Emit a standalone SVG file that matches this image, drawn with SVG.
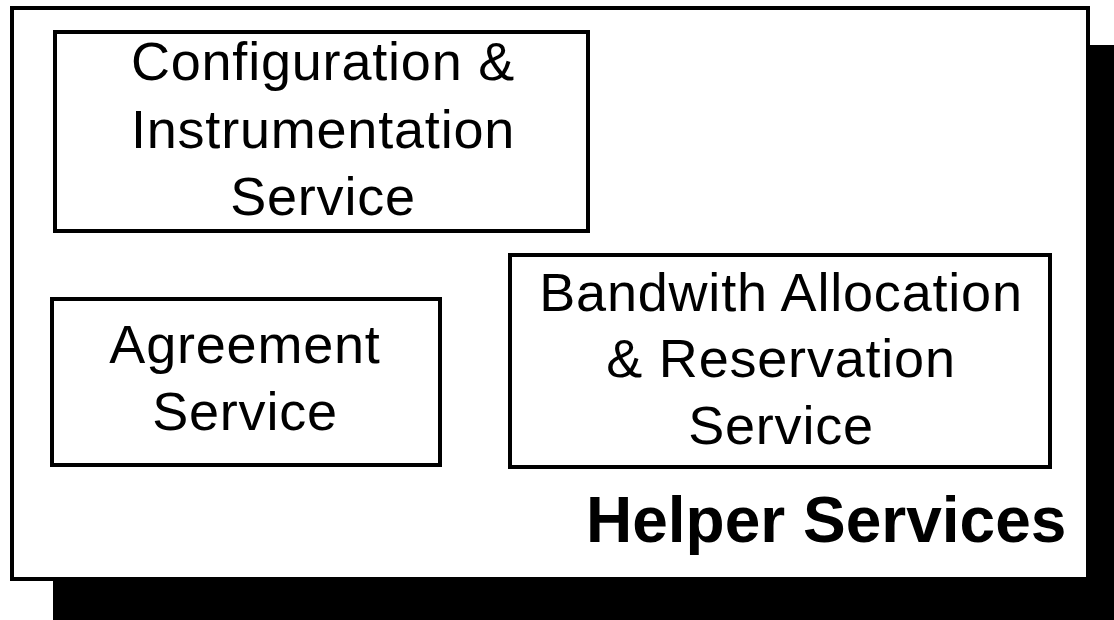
<svg xmlns="http://www.w3.org/2000/svg" width="1114" height="620" viewBox="0 0 1114 620">
  <style>
    .box { fill: #ffffff; stroke: #000000; stroke-width: 4; }
    .label { font-family: "Liberation Sans", Arial, sans-serif; font-size: 54px; letter-spacing: 0.8px; fill: #000000; text-anchor: middle; }
    .title { font-family: "Liberation Sans", Arial, sans-serif; font-size: 64px; font-weight: bold; fill: #000000; }
  </style>
  <rect width="1114" height="620" fill="#ffffff"/>

  <!-- container with drop shadow -->
  <g id="helper-services">
    <rect x="53" y="45" width="1080" height="600" fill="#000000"/>
    <rect class="box" x="12" y="8" width="1076" height="571"/>
    <text class="title" x="586" y="542">Helper Services</text>
  </g>

  <g id="config-instrumentation">
    <rect class="box" x="55" y="32" width="533" height="199"/>
    <text class="label" x="323" y="80">Configuration &amp;</text>
    <text class="label" x="323" y="148">Instrumentation</text>
    <text class="label" x="323" y="215">Service</text>
  </g>

  <g id="agreement">
    <rect class="box" x="52" y="299" width="388" height="166"/>
    <text class="label" x="245" y="363">Agreement</text>
    <text class="label" x="245" y="430">Service</text>
  </g>

  <g id="bandwidth-reservation">
    <rect class="box" x="510" y="255" width="540" height="212"/>
    <text class="label" x="781" y="311">Bandwith Allocation</text>
    <text class="label" x="781" y="377">&amp; Reservation</text>
    <text class="label" x="781" y="444">Service</text>
  </g>

  <g id="connectors"/>
</svg>
